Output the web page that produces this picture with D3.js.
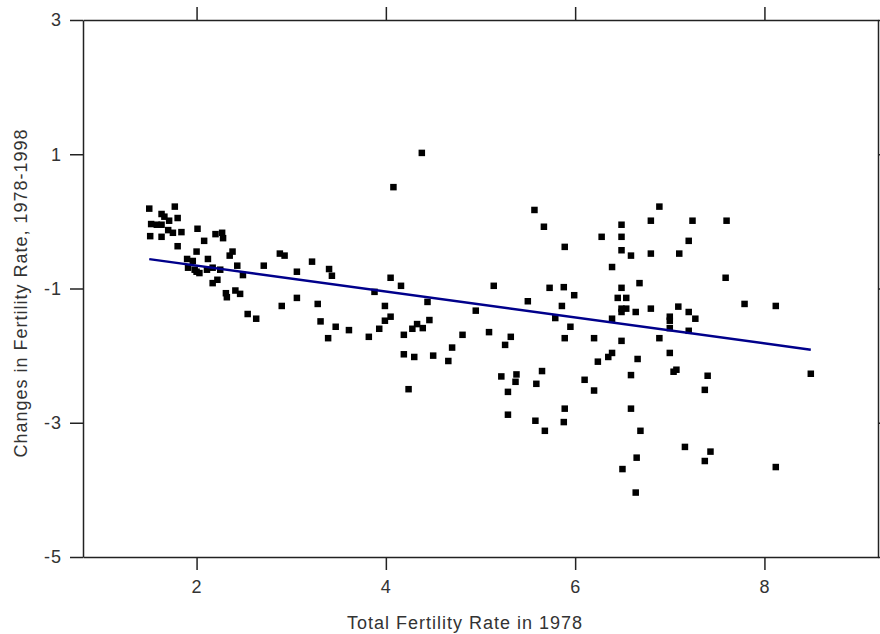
<!DOCTYPE html>
<html>
<head>
<meta charset="utf-8">
<script src="https://cdn.jsdelivr.net/npm/d3@7"></script>
<style>
  body { margin: 0; background: #fff; }
  .axis path, .axis line { stroke: #222; stroke-width: 1.5px; }
  .axis text { font-family: "Liberation Sans", Arial, sans-serif; font-size: 18px; fill: #333; letter-spacing: 1px; }
  .axis_label { font-family: "Liberation Sans", Arial, sans-serif; font-size: 18px; fill: #333; letter-spacing: 1px; }
</style>
</head>
<body>
<div id="chart"></div>
<script>
// Total fertility rate in 1978 (x) and change 1978-1998 (y), one entry per country
const tfr1978 = [
  1.50, 1.77, 1.63, 1.66, 1.71, 1.80, 1.52, 1.58, 1.63, 1.70,
  1.75, 1.84, 1.51, 1.63, 2.01, 1.80, 2.08, 2.20, 2.27, 2.28,
  2.00, 2.38, 2.35, 1.90, 1.96, 2.12, 1.91, 1.98, 2.03, 2.00,
  2.11, 2.17, 2.25, 2.43, 2.49, 2.17, 2.22, 2.31, 2.32, 2.41,
  2.46, 2.54, 2.63, 2.71, 2.88, 2.93, 3.06, 3.22, 3.40, 3.43,
  2.90, 3.06, 3.28, 3.31, 3.47, 3.39, 3.61, 3.88, 4.05, 4.16,
  3.99, 4.05, 3.99, 3.93, 3.82, 4.19, 4.19, 4.30, 4.24, 4.33,
  4.28, 4.39, 4.46, 4.44, 4.50, 4.66, 4.70, 4.81, 4.95, 4.38,
  4.08, 5.57, 5.67, 5.89, 5.14, 5.73, 5.88, 5.99, 5.50, 5.86,
  5.79, 5.09, 5.32, 5.26, 5.95, 5.89, 5.22, 5.38, 5.37, 5.65,
  5.59, 5.29, 5.29, 5.58, 5.89, 5.88, 5.68, 6.89, 6.80, 7.24,
  7.60, 6.49, 6.28, 6.49, 7.20, 6.49, 6.59, 6.80, 7.10, 6.39,
  7.59, 6.68, 6.49, 6.45, 6.54, 6.49, 6.54, 6.49, 6.64, 6.80,
  7.09, 7.20, 7.27, 7.79, 8.12, 6.39, 7.00, 7.00, 7.00, 7.20,
  6.20, 6.49, 6.89, 6.39, 6.35, 6.24, 6.66, 7.00, 7.07, 7.04,
  7.40, 8.49, 6.10, 6.20, 6.59, 7.37, 6.59, 6.69, 7.16, 7.43,
  7.37, 6.65, 6.50, 8.12, 6.64
];
const tfrChange = [
   0.19,  0.22,  0.11,  0.07,  0.01,  0.05, -0.04, -0.05, -0.05, -0.13,
  -0.17, -0.16, -0.22, -0.23, -0.11, -0.37, -0.29, -0.19, -0.17, -0.25,
  -0.45, -0.45, -0.51, -0.56, -0.59, -0.56, -0.69, -0.72, -0.77, -0.75,
  -0.72, -0.69, -0.72, -0.66, -0.80, -0.92, -0.87, -1.07, -1.13, -1.03,
  -1.08, -1.38, -1.45, -0.66, -0.48, -0.51, -0.75, -0.60, -0.71, -0.81,
  -1.26, -1.14, -1.23, -1.49, -1.57, -1.74, -1.62, -1.05, -0.84, -0.96,
  -1.26, -1.42, -1.48, -1.60, -1.72, -1.69, -1.98, -2.02, -2.50, -1.53,
  -1.60, -1.59, -1.47, -1.20, -2.00, -2.08, -1.88, -1.69, -1.33,  1.02,
   0.51,  0.17, -0.08, -0.38, -0.96, -0.99, -0.98, -1.10, -1.19, -1.26,
  -1.44, -1.65, -1.72, -1.84, -1.57, -1.74, -2.31, -2.28, -2.39, -2.23,
  -2.42, -2.54, -2.88, -2.97, -2.79, -2.99, -3.12,  0.22,  0.01,  0.01,
   0.01, -0.05, -0.23, -0.23, -0.29, -0.43, -0.51, -0.48, -0.48, -0.68,
  -0.84, -0.92, -0.99, -1.14, -1.14, -1.30, -1.30, -1.35, -1.35, -1.30,
  -1.27, -1.35, -1.45, -1.23, -1.26, -1.45, -1.42, -1.48, -1.59, -1.63,
  -1.74, -1.78, -1.74, -1.96, -2.02, -2.09, -2.05, -1.96, -2.21, -2.24,
  -2.30, -2.27, -2.36, -2.52, -2.29, -2.51, -2.79, -3.12, -3.36, -3.43,
  -3.57, -3.52, -3.69, -3.66, -4.04
];

const xTicks = [2, 4, 6, 8];
const yTicks = [-5, -3, -1, 1, 3];

// least squares line as drawn in the original
const fitIntercept = -0.273;
const fitSlope = -0.193;

const xLabelText = "Total Fertility Rate in 1978";
const yLabelText = "Changes in Fertility Rate, 1978-1998";

let margin = { top: 20, left: 83, right: 2, bottom: 77 },
    width = 880 - margin.left - margin.right,
    height = 634 - margin.top - margin.bottom;

let data = tfr1978.map((d, i) => ({ x: d, y: tfrChange[i] }));

let svg = d3.select("#chart")
  .append("svg")
  .attr("width", 880)
  .attr("height", 634);

let g = svg.append("g")
  .attr("transform", "translate(" + margin.left + "," + margin.top + ")");

let xScale = d3.scaleLinear().domain([0.8, 9.2]).range([0, width]);
let yScale = d3.scaleLinear().domain([-5, 3]).range([height, 0]);

// plain hyphen for negatives, like the original
const fmt = d => String(d);

// Bottom axis with labels
g.append("g")
  .attr("class", "axis")
  .attr("transform", "translate(0," + height + ")")
  .call(d3.axisBottom(xScale).tickValues(xTicks).tickFormat(fmt).tickSize(13).tickSizeOuter(0).tickPadding(10));

// Left axis with labels
g.append("g")
  .attr("class", "axis")
  .call(d3.axisLeft(yScale).tickValues(yTicks).tickFormat(fmt).tickSize(13).tickSizeOuter(0).tickPadding(8));

// Top and right frame with ticks only
g.append("g")
  .attr("class", "axis")
  .call(d3.axisTop(xScale).tickValues(xTicks).tickSize(13).tickSizeOuter(0).tickFormat(""));

g.append("g")
  .attr("class", "axis")
  .attr("transform", "translate(" + width + ",0)")
  .call(d3.axisRight(yScale).tickValues(yTicks).tickSize(13).tickSizeOuter(0).tickFormat(""));

// Axis titles
svg.append("text")
  .attr("class", "axis_label")
  .attr("x", 465)
  .attr("y", 629)
  .attr("text-anchor", "middle")
  .text(xLabelText);

svg.append("text")
  .attr("class", "axis_label")
  .attr("transform", "translate(27," + 293 + ") rotate(-90)")
  .attr("text-anchor", "middle")
  .text(yLabelText);

// Points
const sz = 6.5;
g.selectAll(".dot")
  .data(data)
  .enter().append("rect")
  .attr("class", "dot")
  .attr("x", d => xScale(d.x) - sz / 2)
  .attr("y", d => yScale(d.y) - sz / 2)
  .attr("width", sz)
  .attr("height", sz)
  .attr("fill", "#000");

// Fit line across the data range
let xr = d3.extent(tfr1978);
let line = d3.line()
  .x(d => xScale(d))
  .y(d => yScale(fitIntercept + fitSlope * d));

g.append("path")
  .datum(xr)
  .attr("d", line)
  .attr("fill", "none")
  .attr("stroke", "#00008b")
  .attr("stroke-width", 2.5);
</script>
</body>
</html>
